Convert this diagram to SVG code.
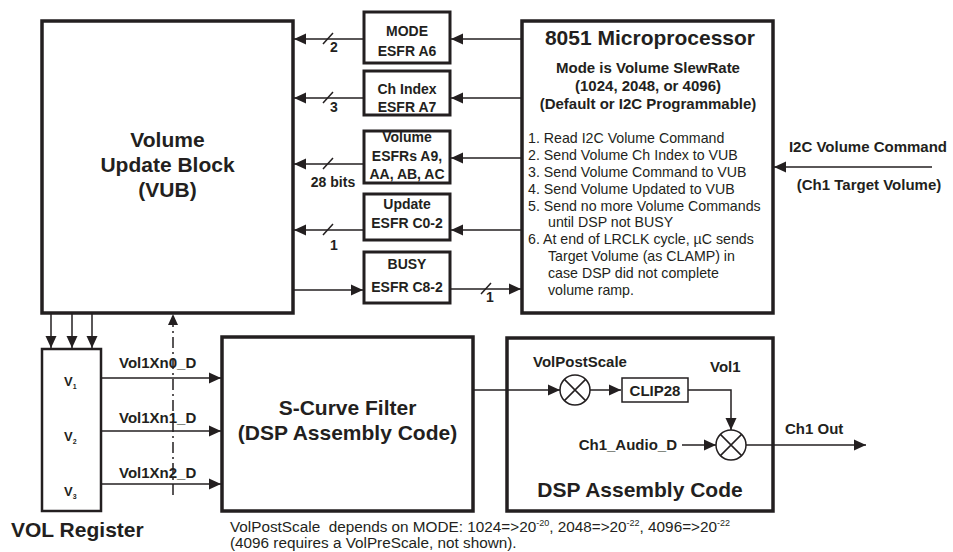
<svg xmlns="http://www.w3.org/2000/svg" width="953" height="552" viewBox="0 0 953 552">
<style>
text{font-family:"Liberation Sans",Arial,sans-serif;fill:#231f20}
.b{font-weight:bold}
.big{font-size:21px;font-weight:bold}
.lbl{font-size:15px;font-weight:bold}
.esfr{font-size:14px;font-weight:bold}
.lst{font-size:14.2px}
.cap{font-size:15.3px}
.box{fill:#fff;stroke:#231f20;stroke-width:3.5}
.sbox{fill:#fff;stroke:#231f20;stroke-width:3}
.ln{fill:none;stroke:#231f20;stroke-width:1.5}
.ar{fill:none;stroke:#231f20;stroke-width:1.5;marker-end:url(#ah)}
</style>
<defs>
<marker id="ah" markerUnits="userSpaceOnUse" markerWidth="12" markerHeight="12" viewBox="0 0 12 12" refX="12" refY="6" orient="auto">
<path d="M0,0.5 L12,6 L0,11.5 z" fill="#231f20"/>
</marker>
</defs>

<g id="vub">
<rect class="box" x="42" y="21" width="251" height="292"/>
<text class="big" x="167.5" y="147" text-anchor="middle">Volume</text>
<text class="big" x="167.5" y="172" text-anchor="middle">Update Block</text>
<text class="big" x="167.5" y="197" text-anchor="middle">(VUB)</text>
</g>

<g id="mode">
<rect class="sbox" x="364" y="12" width="86" height="51"/>
<text class="esfr" x="407" y="35.5" text-anchor="middle">MODE</text>
<text class="esfr" x="407" y="55.5" text-anchor="middle">ESFR A6</text>
</g>
<g id="chindex">
<rect class="sbox" x="364" y="71" width="86" height="44"/>
<text class="esfr" x="407" y="93.5" text-anchor="middle">Ch Index</text>
<text class="esfr" x="407" y="112" text-anchor="middle">ESFR A7</text>
</g>
<g id="volume">
<rect class="sbox" x="364" y="131" width="86" height="52"/>
<text class="esfr" x="407" y="142" text-anchor="middle">Volume</text>
<text class="esfr" x="407" y="161" text-anchor="middle">ESFRs A9,</text>
<text class="esfr" x="407" y="179" text-anchor="middle">AA, AB, AC</text>
</g>
<g id="update">
<rect class="sbox" x="364" y="194" width="86" height="46"/>
<text class="esfr" x="407" y="209" text-anchor="middle">Update</text>
<text class="esfr" x="407" y="228" text-anchor="middle">ESFR C0-2</text>
</g>
<g id="busy">
<rect class="sbox" x="364" y="252" width="86" height="51"/>
<text class="esfr" x="407" y="269" text-anchor="middle">BUSY</text>
<text class="esfr" x="407" y="292" text-anchor="middle">ESFR C8-2</text>
</g>

<g id="micro">
<rect class="box" x="522" y="21" width="251" height="292"/>
<text class="big" x="650" y="45" text-anchor="middle">8051 Microprocessor</text>
<text class="b" font-size="15" x="648" y="73" text-anchor="middle">Mode is Volume SlewRate</text>
<text class="b" font-size="15" x="648" y="91" text-anchor="middle">(1024, 2048, or 4096)</text>
<text class="b" font-size="15" x="648" y="109" text-anchor="middle">(Default or I2C Programmable)</text>
<text class="lst" x="528" y="143">1. Read I2C Volume Command</text>
<text class="lst" x="528" y="160">2. Send Volume Ch Index to VUB</text>
<text class="lst" x="528" y="177">3. Send Volume Command to VUB</text>
<text class="lst" x="528" y="194">4. Send Volume Updated to VUB</text>
<text class="lst" x="528" y="211">5. Send no more Volume Commands</text>
<text class="lst" x="548" y="227">until DSP not BUSY</text>
<text class="lst" x="528" y="244">6. At end of LRCLK cycle, µC sends</text>
<text class="lst" x="548" y="261">Target Volume (as CLAMP) in</text>
<text class="lst" x="548" y="278">case DSP did not complete</text>
<text class="lst" x="548" y="295">volume ramp.</text>
</g>

<g id="volreg">
<rect x="42" y="349" width="59" height="162" fill="#fff" stroke="#231f20" stroke-width="2.5"/>
<text class="b" font-size="13" x="64" y="386">V<tspan font-size="7" dy="3">1</tspan></text>
<text class="b" font-size="13" x="64" y="441">V<tspan font-size="7" dy="3">2</tspan></text>
<text class="b" font-size="13" x="64" y="496">V<tspan font-size="7" dy="3">3</tspan></text>
<text class="big" x="11" y="537">VOL Register</text>
</g>

<g id="scurve">
<rect class="box" x="222" y="337" width="251" height="174"/>
<text class="big" x="347.5" y="415" text-anchor="middle">S-Curve Filter</text>
<text class="big" x="347.5" y="440" text-anchor="middle">(DSP Assembly Code)</text>
</g>

<g id="dsp">
<rect class="box" x="507" y="338" width="266" height="173"/>
<text class="big" x="640" y="497" text-anchor="middle">DSP Assembly Code</text>
</g>
<g id="mult1">
<circle cx="575" cy="390" r="15" fill="#fff" stroke="#231f20" stroke-width="1.5"/>
<path class="ln" d="M564.4,379.4 L585.6,400.6 M585.6,379.4 L564.4,400.6"/>
</g>
<g id="clip28">
<rect x="622" y="378" width="66" height="24" fill="#fff" stroke="#231f20" stroke-width="1.5"/>
<text class="lbl" x="655" y="396" text-anchor="middle">CLIP28</text>
</g>
<g id="mult2">
<circle cx="731" cy="445" r="15" fill="#fff" stroke="#231f20" stroke-width="1.5"/>
<path class="ln" d="M720.4,434.4 L741.6,455.6 M741.6,434.4 L720.4,455.6"/>
</g>

<g id="connectors">
<line class="ar" x1="364" y1="39" x2="294" y2="39"/>
<line class="ar" x1="364" y1="98" x2="294" y2="98"/>
<line class="ar" x1="364" y1="164" x2="294" y2="164"/>
<line class="ar" x1="364" y1="230" x2="294" y2="230"/>
<line class="ar" x1="522" y1="39" x2="451" y2="39"/>
<line class="ar" x1="522" y1="98" x2="451" y2="98"/>
<line class="ar" x1="522" y1="158" x2="451" y2="158"/>
<line class="ar" x1="522" y1="230" x2="451" y2="230"/>
<line class="ar" x1="293" y1="290" x2="363" y2="290"/>
<line class="ar" x1="450" y1="289" x2="521" y2="289"/>
<path class="ln" d="M323,44 L333,33 M323,103 L333,92 M323,169 L333,158 M323,235 L333,224 M481,294 L491,283"/>
<text class="esfr" x="334" y="52" text-anchor="middle">2</text>
<text class="esfr" x="334" y="112" text-anchor="middle">3</text>
<text class="esfr" x="333" y="187" text-anchor="middle">28 bits</text>
<text class="esfr" x="334" y="250" text-anchor="middle">1</text>
<text class="esfr" x="490" y="302" text-anchor="middle">1</text>
<line class="ar" x1="932" y1="167" x2="774" y2="167"/>
<text class="lbl" x="868" y="152" text-anchor="middle">I2C Volume Command</text>
<text class="lbl" x="869" y="190" text-anchor="middle">(Ch1 Target Volume)</text>
<line class="ar" x1="51" y1="313" x2="51" y2="348"/>
<line class="ar" x1="72" y1="313" x2="72" y2="348"/>
<line class="ar" x1="92" y1="313" x2="92" y2="348"/>
<line class="ar" x1="101" y1="378" x2="221" y2="378"/>
<line class="ar" x1="101" y1="431" x2="221" y2="431"/>
<line class="ar" x1="101" y1="484" x2="221" y2="484"/>
<text class="lbl" x="119" y="368">Vol1Xn0_D</text>
<text class="lbl" x="119" y="423">Vol1Xn1_D</text>
<text class="lbl" x="119" y="478">Vol1Xn2_D</text>
<line x1="173" y1="495" x2="173" y2="324" stroke="#231f20" stroke-width="1.5" stroke-dasharray="11 4 2 4"/>
<path d="M173,314 L168,325 L178,325 z" fill="#231f20"/>
<line class="ar" x1="473" y1="390" x2="560" y2="390"/>
<line class="ar" x1="590" y1="390" x2="621" y2="390"/>
<polyline class="ar" points="688,390 731,390 731,430"/>
<line class="ar" x1="682" y1="445" x2="716" y2="445"/>
<line class="ar" x1="746" y1="445" x2="866" y2="445"/>
<text class="lbl" x="533" y="367">VolPostScale</text>
<text class="lbl" x="710" y="372">Vol1</text>
<text class="lbl" x="677" y="450" text-anchor="end">Ch1_Audio_D</text>
<text class="lbl" x="785" y="434">Ch1 Out</text>
</g>

<g id="caption">
<text class="cap" x="230" y="532" xml:space="preserve">VolPostScale  depends on MODE: 1024=&gt;20<tspan font-size="9" dy="-6">-20</tspan><tspan dy="6">, 2048=&gt;20</tspan><tspan font-size="9" dy="-6">-22</tspan><tspan dy="6">, 4096=&gt;20</tspan><tspan font-size="9" dy="-6">-22</tspan></text>
<text class="cap" x="230" y="548">(4096 requires a VolPreScale, not shown).</text>
</g>
</svg>
